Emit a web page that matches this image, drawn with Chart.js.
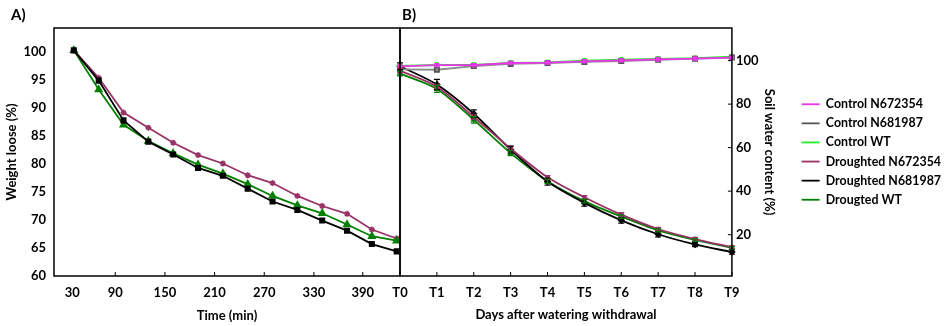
<!DOCTYPE html>
<html>
<head>
<meta charset="utf-8">
<title>Weight loss and soil water content</title>
<script src="https://cdn.jsdelivr.net/npm/chart.js@4.4.1/dist/chart.umd.min.js"></script>
<style>
  html, body { margin: 0; padding: 0; background: #fff; overflow: hidden; }
  #wrap { position: relative; width: 952px; height: 326px; overflow: hidden; }
  #wrap canvas { position: absolute; left: 0; top: 0; }
  .tag { position: absolute; top: 5px; font: bold 15px Lato, sans-serif; color: #000; }
</style>
</head>
<body>
<div id="wrap">
  <canvas id="chartA" width="952" height="326"></canvas>
  <canvas id="chartB" width="952" height="326"></canvas>
  <div class="tag" style="left:11px">A)</div>
  <div class="tag" style="left:402px">B)</div>
</div>
<script>
// ---- panel A: weight loss over time (min) ----
const timeMin = [30, 60, 90, 120, 150, 180, 210, 240, 270, 300, 330, 360, 390, 420];
const timeTickAt = [28, 80, 140, 200, 260, 320, 379];
const timeTickLabels = ['30', '90', '150', '210', '270', '330', '390'];
const weightN672354 = [100.3, 95.4, 89.2, 86.5, 83.8, 81.6, 80.1, 78.0, 76.6, 74.3, 72.5, 71.1, 68.3, 66.7];
const weightN681987 = [100.3, 94.9, 87.8, 84.0, 81.7, 79.3, 77.9, 75.6, 73.3, 71.8, 69.9, 68.1, 65.7, 64.4];
const weightWT = [100.3, 93.3, 87.0, 84.1, 81.9, 79.9, 78.3, 76.4, 74.3, 72.6, 71.2, 69.2, 67.1, 66.3];
const weightTicks = [60, 65, 70, 75, 80, 85, 90, 95, 100];

// ---- panel B: soil water content after watering withdrawal ----
const days = ['T0', 'T1', 'T2', 'T3', 'T4', 'T5', 'T6', 'T7', 'T8', 'T9'];
const ctrlN672354 = [97.4, 97.9, 97.9, 98.9, 99.1, 99.7, 100.1, 100.6, 100.9, 101.4];
const ctrlN681987 = [96.0, 95.8, 97.5, 98.5, 98.9, 99.4, 99.8, 100.4, 100.9, 101.4];
const ctrlWT = [97.6, 98.0, 98.0, 98.9, 99.2, 100.0, 100.4, 100.8, 101.1, 101.8];
const drN672354 = [95.4, 88.0, 74.1, 59.6, 46.4, 37.2, 29.2, 22.6, 18.0, 14.2];
const drN681987 = [97.4, 89.0, 75.6, 59.1, 44.4, 34.6, 26.6, 20.2, 15.5, 12.0];
const drWT = [94.0, 87.0, 72.8, 57.5, 44.6, 35.4, 28.3, 22.0, 17.6, 13.9];
const errN672354 = [1.0, 1.2, 1.2, 1.0, 0.8, 0.8, 0.8, 0.7, 0.6, 0.6];
const errN681987 = [1.6, 2.4, 1.8, 1.6, 1.6, 1.5, 1.3, 1.2, 1.0, 1.0];
const errWT = [1.0, 1.6, 1.5, 1.2, 1.0, 0.8, 0.8, 0.7, 0.6, 0.6];
const soilTicks = [20, 40, 60, 80, 100];

const FONT = 'Lato, "Open Sans", sans-serif';
const C = {
    ctrlN672354: '#e838e8',
    ctrlN681987: '#8c8c8c',
    ctrlWT: '#22ee22',
    drN672354: '#993366',
    drN681987: '#000000',
    drWT: '#008000'
};

// frame around plot area + short inward tick marks
const frameTicks = {
    id: 'frameTicks',
    afterDraw(chart) {
        const ctx = chart.ctx;
        const a = chart.chartArea;
        ctx.save();
        ctx.strokeStyle = '#000';
        ctx.lineWidth = 1;
        Object.values(chart.scales).forEach(scale => {
            if (!scale.options.display || scale.position === 'left') return;
            scale.ticks.forEach((t, i) => {
                const p = scale.getPixelForTick(i);
                ctx.beginPath();
                if (scale.isHorizontal()) {
                    if (t.value === timeTickAt[0] && chart.canvas.id === 'chartA') return;
                    ctx.moveTo(p, a.bottom);
                    ctx.lineTo(p, a.bottom - 4);
                } else {
                    ctx.moveTo(a.right, p);
                    ctx.lineTo(a.right - 4, p);
                }
                ctx.stroke();
            });
        });
        ctx.lineWidth = 1.5;
        ctx.strokeRect(a.left, a.top, a.right - a.left, a.bottom - a.top);
        ctx.restore();
    }
};

// vertical error bars for datasets that carry an errors array
const errorBars = {
    id: 'errorBars',
    afterDatasetsDraw(chart) {
        const ctx = chart.ctx;
        chart.data.datasets.forEach((ds, di) => {
            if (!ds.errors) return;
            const meta = chart.getDatasetMeta(di);
            const y = chart.scales[meta.yAxisID];
            ctx.save();
            ctx.strokeStyle = ds.borderColor;
            ctx.lineWidth = 1.2;
            meta.data.forEach((pt, i) => {
                const top = y.getPixelForValue(ds.data[i] + ds.errors[i]);
                const bot = y.getPixelForValue(ds.data[i] - ds.errors[i]);
                ctx.beginPath();
                ctx.moveTo(pt.x, top); ctx.lineTo(pt.x, bot);
                ctx.moveTo(pt.x - 3, top); ctx.lineTo(pt.x + 3, top);
                ctx.moveTo(pt.x - 3, bot); ctx.lineTo(pt.x + 3, bot);
                ctx.stroke();
            });
            ctx.restore();
        });
    }
};

function toXY(xs, ys) {
    return ys.map((v, i) => ({ x: xs[i], y: v }));
}

function lineSet(label, data, color, style, radius, extra) {
    return Object.assign({
        label: label,
        data: data,
        borderColor: color,
        backgroundColor: color,
        pointBackgroundColor: color,
        pointBorderColor: color,
        pointStyle: style,
        pointRadius: radius,
        borderWidth: 1.8,
        tension: 0
    }, extra || {});
}

const tickFont = { family: FONT, weight: 'bold', size: 13 };
const legendFont = { family: FONT, weight: 'bold', size: 12.4 };

new Chart(document.getElementById('chartA'), {
    type: 'line',
    data: {
        datasets: [
            lineSet('Droughted N681987', toXY(timeMin, weightN681987), C.drN681987, 'rect', 3),
            lineSet('Drougted WT', toXY(timeMin, weightWT), C.drWT, 'triangle', 3.5),
            lineSet('Droughted N672354', toXY(timeMin, weightN672354), C.drN672354, 'star', 3, { pointBorderWidth: 1.5 })
        ]
    },
    options: {
        responsive: false,
        animation: false,
        layout: { padding: { top: 28, right: 552, left: 0, bottom: 0 } },
        plugins: { legend: { display: false }, tooltip: { enabled: false } },
        scales: {
            x: {
                type: 'linear',
                min: 6,
                max: 424,
                afterBuildTicks: scale => { scale.ticks = timeTickAt.map(v => ({ value: v })); },
                afterFit: scale => { scale.height = 50; },
                grid: { display: false, drawTicks: false },
                border: { display: false },
                ticks: {
                    font: tickFont, color: '#000', padding: 9, maxRotation: 0, autoSkip: false,
                    callback: (v, i) => timeTickLabels[i]
                },
                title: { display: true, text: 'Time (min)', font: tickFont, color: '#000', padding: { top: 0, bottom: 2 } }
            },
            y: {
                min: 60,
                max: 104.3,
                afterBuildTicks: scale => { scale.ticks = weightTicks.map(v => ({ value: v })); },
                afterFit: scale => { scale.width = 54; },
                grid: { display: false, drawTicks: false },
                border: { display: false },
                ticks: { font: tickFont, color: '#000', padding: 8 },
                title: { display: true, text: 'Weight loose (%)', font: tickFont, color: '#000', padding: { top: 4.5, bottom: 0 } }
            }
        }
    },
    plugins: [frameTicks]
});

new Chart(document.getElementById('chartB'), {
    type: 'line',
    data: {
        labels: days,
        datasets: [
            lineSet('Control N672354', ctrlN672354, C.ctrlN672354, 'rect', 2),
            lineSet('Control N681987', ctrlN681987, C.ctrlN681987, 'rect', 3, { pointBorderColor: '#555' }),
            lineSet('Control WT', ctrlWT, C.ctrlWT, 'circle', 2),
            lineSet('Droughted N672354', drN672354, C.drN672354, 'rect', 2, { tension: 0.3, errors: errN672354 }),
            lineSet('Droughted N681987', drN681987, C.drN681987, 'rectRot', 2.5, { tension: 0.3, errors: errN681987 }),
            lineSet('Drougted WT', drWT, C.drWT, 'triangle', 2, { tension: 0.3, errors: errWT })
        ]
    },
    options: {
        responsive: false,
        animation: false,
        layout: { padding: { top: 28, right: 1, left: 400, bottom: 0 } },
        plugins: {
            tooltip: { enabled: false },
            legend: {
                position: 'right',
                fullSize: false,
                maxWidth: 220,
                labels: {
                    font: legendFont,
                    color: '#000',
                    usePointStyle: true,
                    pointStyle: 'line',
                    pointStyleWidth: 18,
                    padding: 6.7
                }
            }
        },
        scales: {
            x: {
                offset: false,
                afterFit: scale => { scale.height = 50; },
                grid: { display: false, drawTicks: false },
                border: { display: false },
                ticks: { font: tickFont, color: '#000', padding: 9, maxRotation: 0, autoSkip: false },
                title: { display: true, text: 'Days after watering withdrawal', font: tickFont, color: '#000', padding: { top: 0, bottom: 3.5 } }
            },
            y: {
                position: 'right',
                min: 1,
                max: 115,
                afterBuildTicks: scale => { scale.ticks = soilTicks.map(v => ({ value: v })); },
                afterFit: scale => { scale.width = 63; },
                grid: { display: false, drawTicks: false },
                border: { display: false },
                ticks: { font: tickFont, color: '#000', padding: 4 },
                title: { display: true, text: 'Soil water content (%)', font: tickFont, color: '#000', padding: { top: 18, bottom: 0 } }
            }
        }
    },
    plugins: [frameTicks, errorBars]
});
</script>
</body>
</html>
